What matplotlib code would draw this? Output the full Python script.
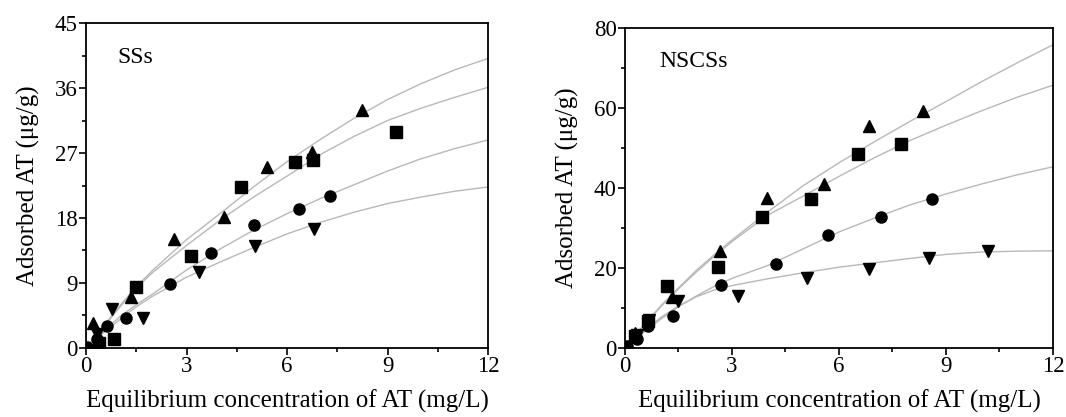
import numpy as np
import matplotlib
matplotlib.use("Agg")
import matplotlib.pyplot as plt
from matplotlib.ticker import MultipleLocator

plt.rcParams['font.family'] = ['Liberation Serif', 'DejaVu Serif']

# ---- SSs panel: measured points ----
ss_tri_x = [0.22, 1.33, 2.62, 4.12, 5.39, 6.76, 8.24]
ss_tri_y = [3.5, 7.1, 15.1, 18.1, 25.1, 27.2, 33.0]
ss_sq_x = [0.4, 0.84, 1.5, 3.12, 4.64, 6.24, 6.78, 9.26]
ss_sq_y = [0.7, 1.3, 8.5, 12.8, 22.3, 25.7, 26.1, 29.9]
ss_ci_x = [0.02, 0.33, 0.62, 1.18, 2.51, 3.72, 5.0, 6.35, 7.28]
ss_ci_y = [0.2, 1.3, 3.1, 4.1, 8.9, 13.2, 17.0, 19.2, 21.1]
ss_inv_x = [0.32, 0.77, 1.69, 3.37, 5.05, 6.8]
ss_inv_y = [1.9, 5.4, 4.2, 10.5, 14.1, 16.5]

# ---- SSs panel: fitted curves ----
ss_fit_x = [0, 0.5, 1, 1.5, 2, 3, 4, 5, 6, 7, 8, 9, 10, 11, 12]
ss_fit_tri = [0, 2.9, 5.8, 8.5, 10.8, 15.0, 18.6, 22.3, 25.8, 28.9, 31.8, 34.4, 36.6, 38.5, 40.1]
ss_fit_sq = [0, 2.8, 5.6, 8.3, 10.5, 14.2, 17.7, 20.9, 23.8, 26.8, 29.3, 31.5, 33.2, 34.7, 36.1]
ss_fit_ci = [0, 2.2, 4.3, 6.0, 7.5, 10.8, 13.7, 16.3, 18.6, 20.7, 22.6, 24.5, 26.2, 27.6, 28.8]
ss_fit_inv = [0, 2.0, 3.9, 5.7, 7.2, 9.8, 11.9, 13.9, 15.8, 17.4, 18.8, 20.0, 20.9, 21.7, 22.3]

# ---- NSCSs panel: measured points ----
ns_tri_x = [0.29, 0.65, 1.31, 2.67, 3.99, 5.58, 6.83, 8.36]
ns_tri_y = [3.75, 7.1, 12.7, 24.3, 37.5, 41.0, 55.6, 59.3]
ns_sq_x = [0.29, 0.65, 1.18, 2.60, 3.85, 5.22, 6.54, 7.75]
ns_sq_y = [2.9, 6.7, 15.4, 20.25, 32.7, 37.25, 48.6, 51.0]
ns_ci_x = [0.05, 0.34, 0.65, 1.34, 2.70, 4.23, 5.70, 7.19, 8.6]
ns_ci_y = [0.4, 2.25, 5.4, 7.9, 15.7, 21.0, 28.3, 32.75, 37.25]
ns_inv_x = [0.34, 0.67, 1.48, 3.17, 5.09, 6.83, 8.53, 10.17]
ns_inv_y = [3.3, 7.1, 11.7, 12.9, 17.5, 19.75, 22.5, 24.2]

# ---- NSCSs panel: fitted curves ----
ns_fit_x = [0, 0.5, 1, 1.5, 2, 2.5, 3, 4, 5, 6, 7, 8, 9, 10, 11, 12]
ns_fit_tri = [0, 5.5, 10.5, 15.0, 19.4, 23.3, 27.0, 34.0, 40.6, 46.3, 51.6, 56.7, 61.6, 66.6, 71.3, 75.8]
ns_fit_sq = [0, 5.3, 10.3, 14.8, 19.0, 22.9, 26.6, 33.2, 38.0, 42.9, 47.6, 51.9, 55.7, 59.3, 62.7, 65.7]
ns_fit_ci = [0, 3.7, 7.2, 10.3, 13.0, 15.4, 17.4, 20.6, 24.8, 29.0, 32.5, 35.8, 38.5, 41.0, 43.3, 45.3]
ns_fit_inv = [0, 4.0, 7.6, 10.5, 12.8, 14.5, 15.6, 17.3, 18.8, 20.2, 21.3, 22.4, 23.4, 24.0, 24.2, 24.3]

LINE_C = '#b8b8b8'


def draw_panel(ax, fit_x, fits, pts, ymax, ystep, name):
    for f in fits:
        ax.plot(fit_x, f, color=LINE_C, lw=1.0, zorder=1)
    for (px, py), m in zip(pts, ['^', 's', 'o', 'v']):
        ax.plot(px, py, ls='none', marker=m, color='black', ms=8, zorder=3)
    ax.set_xlim(0, 12)
    ax.set_ylim(0, ymax)
    ax.xaxis.set_major_locator(MultipleLocator(3))
    ax.xaxis.set_minor_locator(MultipleLocator(1.5))
    ax.yaxis.set_major_locator(MultipleLocator(ystep))
    ax.yaxis.set_minor_locator(MultipleLocator(ystep / 2))
    ax.tick_params(which='both', direction='out', top=False, right=False,
                   labelsize=16.5, width=1.2, pad=1)
    ax.tick_params(which='major', length=5)
    ax.tick_params(which='minor', length=3)
    for s in ax.spines.values():
        s.set_linewidth(1.3)
    ax.set_xlabel('Equilibrium concentration of AT (mg/L)', fontsize=18, labelpad=9)
    ax.set_ylabel('Adsorbed AT (μg/g)', fontsize=18, labelpad=11)
    ax.text(0.95, ymax * 0.895, name, fontsize=17, ha='left', va='center')


fig = plt.figure(figsize=(10.66, 4.17), dpi=100)
ax1 = fig.add_axes([0.0807, 0.1655, 0.3771, 0.7793])
ax2 = fig.add_axes([0.5863, 0.1655, 0.4015, 0.7674])

draw_panel(ax1, ss_fit_x, [ss_fit_tri, ss_fit_sq, ss_fit_ci, ss_fit_inv],
           [(ss_tri_x, ss_tri_y), (ss_sq_x, ss_sq_y), (ss_ci_x, ss_ci_y), (ss_inv_x, ss_inv_y)],
           45, 9, 'SSs')
draw_panel(ax2, ns_fit_x, [ns_fit_tri, ns_fit_sq, ns_fit_ci, ns_fit_inv],
           [(ns_tri_x, ns_tri_y), (ns_sq_x, ns_sq_y), (ns_ci_x, ns_ci_y), (ns_inv_x, ns_inv_y)],
           80, 20, 'NSCSs')

fig.savefig('out.png', dpi=100)
